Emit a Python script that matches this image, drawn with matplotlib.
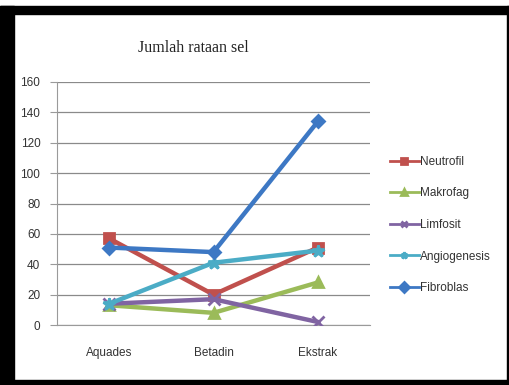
import matplotlib
matplotlib.use("Agg")
import matplotlib.pyplot as plt
from matplotlib.patches import Rectangle

categories = ["Aquades", "Betadin", "Ekstrak"]
neutrofil = [57, 20, 51]
makrofag = [13, 8, 28]
limfosit = [14, 17, 2]
angiogenesis = [14, 41, 49]
fibroblas = [51, 48, 134]
series_names = ["Neutrofil", "Makrofag", "Limfosit", "Angiogenesis", "Fibroblas"]
yticks = [0, 20, 40, 60, 80, 100, 120, 140, 160]

colors = ["#C0504D", "#9BBB59", "#8064A2", "#4BACC6", "#3D78C4"]
markers = ["s", "^", "x", "*", "D"]
msizes = [7, 7, 8, 9, 6]

W, H = 509, 385
fig = plt.figure(figsize=(W / 100, H / 100), dpi=100)
fig.patch.set_facecolor("white")

# black frame
def px_rect(x0, y0, x1, y1, color="black"):
    fig.patches.append(Rectangle((x0 / W, 1 - y1 / H), (x1 - x0) / W, (y1 - y0) / H,
                                 transform=fig.transFigure, color=color, zorder=0))
px_rect(0, 6, W, 14)
px_rect(0, 6, 14, H)
px_rect(506.5, 6, W, H)
px_rect(0, 380, W, H)

ax = fig.add_axes([57 / W, 1 - 325 / H, (370 - 57) / W, (325 - 82) / H])
ax.set_facecolor("none")
x = list(range(len(categories)))
data = [neutrofil, makrofag, limfosit, angiogenesis, fibroblas]
for vals, name, c, m, ms in zip(data, series_names, colors, markers, msizes):
    ax.plot(x, vals, color=c, lw=3.2, marker=m, markersize=ms, markeredgewidth=2,
            markeredgecolor=c, markerfacecolor=c, label=name, zorder=3)

ax.set_xlim(-0.5, 2.5)
ax.set_ylim(0, 160)
ax.set_yticks(yticks)
ax.set_xticks(x)
ax.set_xticklabels(categories)
ax.yaxis.grid(True, color="#8a8a8a", lw=0.9)
ax.set_axisbelow(True)
for s in ["top", "right"]:
    ax.spines[s].set_visible(False)
ax.spines["left"].set_color("#9a9a9a")
ax.spines["bottom"].set_color("#9a9a9a")
ax.tick_params(axis="y", length=5, color="#9a9a9a", labelsize=8.5, labelcolor="#333333", pad=7)
ax.tick_params(axis="x", length=0, labelsize=8.5, labelcolor="#333333", pad=16)
for lab in ax.get_xticklabels() + ax.get_yticklabels():
    lab.set_fontfamily("Liberation Sans")

fig.text(193 / W, 1 - 48 / H, "Jumlah rataan sel", ha="center", va="center",
         fontsize=11.5, family="Liberation Serif", color="#222222")

leg = fig.legend(loc="upper left", bbox_to_anchor=(385 / W, 1 - 151 / H),
                 frameon=False, handlelength=2.5, handletextpad=0.1,
                 labelspacing=1.66, borderaxespad=0,
                 prop={"family": "Liberation Sans", "size": 8.5})
for h in leg.legend_handles:
    h.set_linewidth(2)
    h.set_markersize(5)
for t in leg.get_texts():
    t.set_color("#333333")

fig.savefig("out.png", dpi=100, facecolor="white")
